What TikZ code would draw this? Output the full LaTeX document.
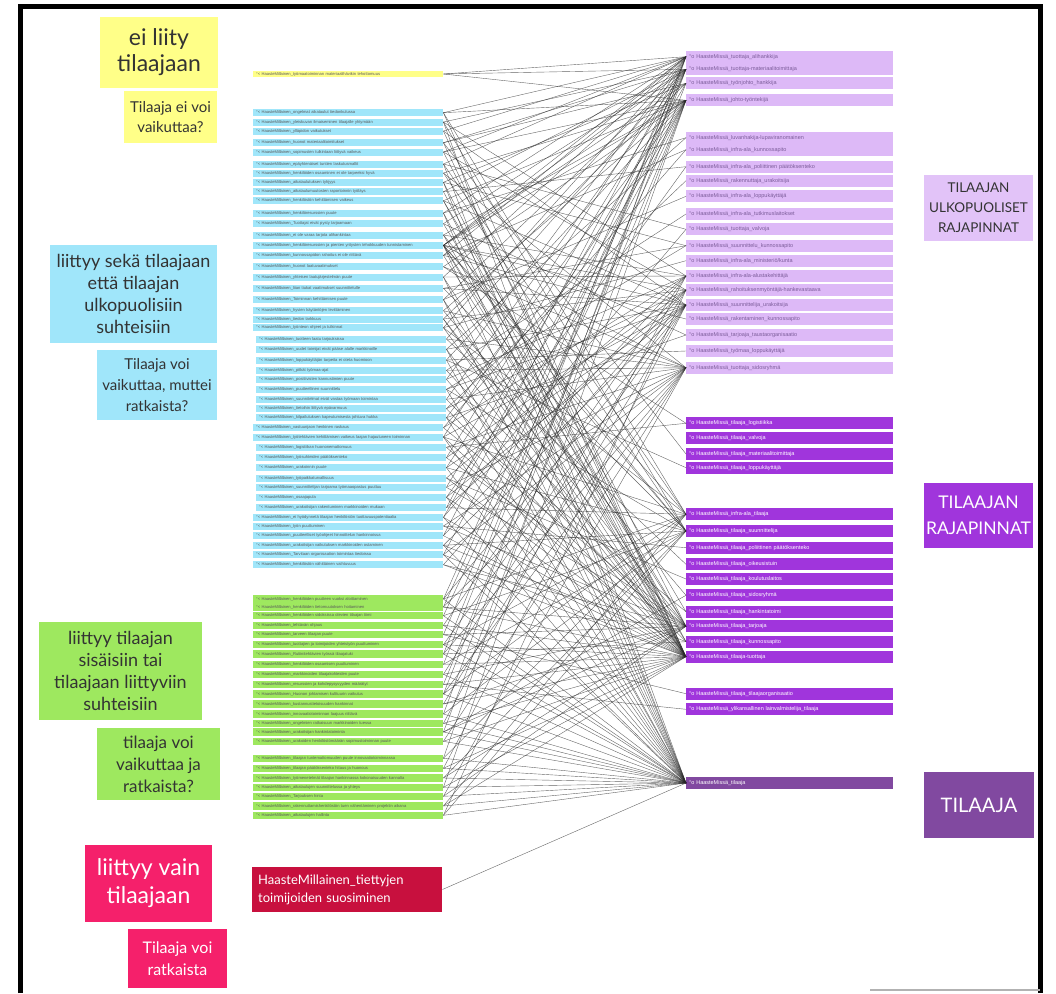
\documentclass[tikz,border=0pt]{standalone}
\usepackage{fontspec}
\setmainfont{Liberation Sans}
\newfontfamily\stick{Lato}
\definecolor{cyel}{HTML}{FFFF88}
\definecolor{cblue}{HTML}{A0E6FA}
\definecolor{cgreen}{HTML}{9EE85F}
\definecolor{credsticky}{HTML}{F5206B}
\definecolor{crednode}{HTML}{C8103E}
\definecolor{clpur}{HTML}{DDB9F7}
\definecolor{clpurtxt}{HTML}{7B5C99}
\definecolor{cdpur}{HTML}{A035DC}
\definecolor{ctil}{HTML}{8149A0}
\newcommand\barf{\fontsize{4.1}{5}\selectfont}
\newcommand\pbarf{\fontsize{5.5}{6}\selectfont}
\tikzset{
  sticky/.style={inner sep=0pt, align=center, text=black!80},
  lbar/.style={anchor=west, text width=184pt, inner xsep=3pt, inner ysep=0pt, minimum height=7pt, font=\barf, align=left, text=black!65},
  bbar/.style={lbar, fill=cblue},
  gbar/.style={lbar, fill=cgreen, minimum height=7.5pt},
  ybar/.style={lbar, fill=cyel, minimum height=6pt},
  pbar/.style={anchor=west, text width=201pt, inner xsep=3pt, inner ysep=0pt, minimum height=12pt, font=\pbarf, align=left},
  lpbar/.style={pbar, fill=clpur, text=clpurtxt},
  dpbar/.style={pbar, fill=cdpur, text=white},
  tpbar/.style={pbar, fill=ctil, text=white},
  conn/.style={draw=black!85, line width=0.4pt, opacity=0.7}
}
\begin{document}
\begin{tikzpicture}[x=1pt,y=-1pt]
\useasboundingbox (0,0) rectangle (1056,993);
\fill[white] (0,0) rectangle (1056,993);
\draw[line width=5pt] (20,993) -- (20,6) -- (1040,6) -- (1040,993);
\draw[black!30, line width=2pt] (870,990) -- (1040,990);

% sticky notes
\node[sticky, fill=cyel, minimum width=118, minimum height=71, font=\fontsize{23}{26}\stick] (n1) at (159,52.5) {ei liity\\tilaajaan};
\node[sticky, fill=cyel, minimum width=93, minimum height=52, font=\fontsize{15}{20}\stick] (n2) at (170.5,117) {Tilaaja ei voi\\vaikuttaa?};
\node[sticky, fill=cblue, minimum width=167, minimum height=98, font=\fontsize{18}{22}\stick] (n3) at (133.5,294) {liittyy sekä tilaajaan\\että tilaajan\\ulkopuolisiin\\suhteisiin};
\node[sticky, fill=cblue, minimum width=120, minimum height=70, font=\fontsize{15}{21}\stick] (n4) at (157,385) {Tilaaja voi\\vaikuttaa, muttei\\ratkaista?};
\node[sticky, fill=cgreen, minimum width=163, minimum height=98, font=\fontsize{18}{22}\stick] (n5) at (120.5,671) {liittyy tilaajan\\sisäisiin tai\\tilaajaan liittyviin\\suhteisiin};
\node[sticky, fill=cgreen, minimum width=123, minimum height=72, font=\fontsize{17}{22}\stick] (n6) at (158.5,764) {tilaaja voi\\vaikuttaa ja\\ratkaista?};
\node[sticky, fill=credsticky, text=white, minimum width=127, minimum height=77, font=\fontsize{23}{28}\stick] (n7) at (148.5,883.5) {liittyy vain\\tilaajaan};
\node[sticky, fill=credsticky, text=white, minimum width=99, minimum height=59, font=\fontsize{16}{22}\stick] (n8) at (177.5,958.5) {Tilaaja voi\\ratkaista};

% right labels
\node[sticky, fill=clpur!85!white, minimum width=109, minimum height=66, font=\fontsize{13.5}{20}\stick] (L1) at (978.5,208) {TILAAJAN\\ULKOPUOLISET\\RAJAPINNAT};
\node[sticky, fill=cdpur, text=white, minimum width=109, minimum height=65, font=\fontsize{17.5}{26}\stick] (L2) at (978.5,515.5) {TILAAJAN\\RAJAPINNAT};
\node[sticky, fill=ctil, text=white, minimum width=110, minimum height=66, font=\fontsize{20}{24}\stick] (L3) at (979,805) {TILAAJA};

% red node
\node[anchor=west, fill=crednode, text=white, text width=178pt, inner xsep=6pt, inner ysep=0pt, minimum height=45pt, align=left, font=\fontsize{13}{18}\stick] (rm) at (252,889.5) {HaasteMillainen\_tiettyjen\\toimijoiden suosiminen};

% yellow bar
\node[ybar] (y1) at (253,74) {°< HaasteMillainen\_työmaatoiminnan materiaalihävikin tehottomuus};

% blue bars
\node[bbar] (b1) at (253,112.7) {°< HaasteMillainen\_ongelmat aikataulut tiedonkulussa};
\node[bbar] (b2) at (253,122) {°< HaasteMillainen\_yleiskuvan ilmaiseminen tilaajalle yhtymään};
\node[bbar] (b3) at (253,131) {°< HaasteMillainen\_ylläpidon vaikutukset};
\node[bbar] (b4) at (253,142.7) {°< HaasteMillainen\_huonot materiaalitoimitukset};
\node[bbar] (b5) at (253,152) {°< HaasteMillainen\_sopimusten tulkintaan liittyvä vaikeus};
\node[bbar] (b6) at (253,164) {°< HaasteMillainen\_epäyhtenäiset tuntien laskutusmallit};
\node[bbar] (b7) at (253,173) {°< HaasteMillainen\_henkilöiden osaaminen ei ole tarpeeksi hyvä};
\node[bbar] (b8) at (253,182.3) {°< HaasteMillainen\_aikataulutuksen tyhjyys};
\node[bbar] (b9) at (253,191.7) {°< HaasteMillainen\_aikataulumuutosten raportoinnin työläys};
\node[bbar] (b10) at (253,200.7) {°< HaasteMillainen\_henkilöstön kehittämisen vaikeus};
\node[bbar] (b11) at (253,213) {°< HaasteMillainen\_henkilöresurssien puute};
\node[bbar] (b12) at (253,223.7) {°< HaasteMillainen\_Tuottajat eivät pysty tarjoamaan};
\node[bbar] (b13) at (253,235) {°< HaasteMillainen\_ei ole varaa tarjota alihankintaa};
\node[bbar] (b14) at (253,245.3) {°< HaasteMillainen\_henkilöresurssien ja pienten yritysten tehokkuuden tunnistaminen};
\node[bbar] (b15) at (253,255.3) {°< HaasteMillainen\_kunnossapidon rahoitus ei ole riittävä};
\node[bbar] (b16) at (253,266.7) {°< HaasteMillainen\_huonot laatuvaatimukset};
\node[bbar] (b17) at (253,277) {°< HaasteMillainen\_yhteisen laatujärjestelmän puute};
\node[bbar] (b18) at (253,288.3) {°< HaasteMillainen\_liian tiukat vaatimukset suunnittelulle};
\node[bbar] (b19) at (253,299.7) {°< HaasteMillainen\_Toiminnan kehittämisen puute};
\node[bbar] (b20) at (253,310.7) {°< HaasteMillainen\_hyvien käytäntöjen levittäminen};
\node[bbar] (b21) at (253,319) {°< HaasteMillainen\_tiedon tarkkuus};
\node[bbar] (b22) at (253,327.7) {°< HaasteMillainen\_työnteon ohjeet ja tulkinnat};
\node[bbar] (b23) at (256,339) {°< HaasteMillainen\_tuotteen laatu tarjouksissa};
\node[bbar] (b24) at (256,349.3) {°< HaasteMillainen\_uudet toimijat eivät pääse alalle markkinoille};
\node[bbar] (b25) at (256,360) {°< HaasteMillainen\_loppukäyttäjän tarpeita ei oteta huomioon};
\node[bbar] (b26) at (256,370.3) {°< HaasteMillainen\_pitkät työmaa-ajat};
\node[bbar] (b27) at (256,379.3) {°< HaasteMillainen\_positiivisten kannustimien puute};
\node[bbar] (b28) at (256,389.3) {°< HaasteMillainen\_puutteellinen suunnittelu};
\node[bbar] (b29) at (256,399.3) {°< HaasteMillainen\_suunnitelmat eivät vastaa työmaan toimintaa};
\node[bbar] (b30) at (256,408.7) {°< HaasteMillainen\_tietoihin liittyvä epävarmuus};
\node[bbar] (b31) at (256,417.7) {°< HaasteMillainen\_kilpailutuksen kapeutumisesta johtuva hukka};
\node[bbar] (b32) at (253,427.7) {°< HaasteMillainen\_vastuunjaon henkinen raskaus};
\node[bbar] (b33) at (253,437) {°< HaasteMillainen\_työtehtävien kehittämisen vaikeus laajan hajautuneen toiminnan};
\node[bbar] (b34) at (256,447.3) {°< HaasteMillainen\_logistiikan huononemattomuus};
\node[bbar] (b35) at (256,457.7) {°< HaasteMillainen\_työsuhteiden päätöksenteko};
\node[bbar] (b36) at (256,467.7) {°< HaasteMillainen\_urakoinnin puute};
\node[bbar] (b37) at (256,478) {°< HaasteMillainen\_työpaikkaturvallisuus};
\node[bbar] (b38) at (256,487.3) {°< HaasteMillainen\_suunnittelijan tarjoama työmaaopastus puuttuu};
\node[bbar] (b39) at (256,497.3) {°< HaasteMillainen\_osaajapula};
\node[bbar] (b40) at (256,507.7) {°< HaasteMillainen\_urakoitsijan rakentuminen markkinoiden mukaan};
\node[bbar] (b41) at (253,517.3) {°< HaasteMillainen\_ei hyödynnetä tilaajan henkilöstön tuottavuuspotentiaalia};
\node[bbar] (b42) at (253,526) {°< HaasteMillainen\_työn puuttuminen};
\node[bbar] (b43) at (253,535.7) {°< HaasteMillainen\_puutteelliset työohjeet hinnoittelun hankinnoissa};
\node[bbar] (b44) at (253,545.3) {°< HaasteMillainen\_urakoitsijan vaikutuksen markkinoiden ostaminen};
\node[bbar] (b45) at (253,554.7) {°< HaasteMillainen\_Tarvitaan organisaation toimintaa tiedoissa};
\node[bbar] (b46) at (253,564.7) {°< HaasteMillainen\_henkilöstön vähittäinen vaihtuvuus};

% green bars
\node[gbar] (g1) at (253,599) {°< HaasteMillainen\_henkilöiden puutteen vuoksi aloittaminen};
\node[gbar] (g2) at (253,607) {°< HaasteMillainen\_henkilöiden tietomuutoksen hoitaminen};
\node[gbar] (g3) at (253,615.7) {°< HaasteMillainen\_henkilöiden sidoksissa olevien tilaajan tiimi};
\node[gbar] (g4) at (253,625.3) {°< HaasteMillainen\_tehtävän ohjaus};
\node[gbar] (g5) at (253,634.7) {°< HaasteMillainen\_tarveen tilaajan puute};
\node[gbar] (g6) at (253,644.7) {°< HaasteMillainen\_tuottajien ja toimijoiden yhteistyön puuttuminen};
\node[gbar] (g7) at (253,654) {°< HaasteMillainen\_Rutiinitehtävien työssä tilaajatuki};
\node[gbar] (g8) at (253,664.3) {°< HaasteMillainen\_henkilöiden osaamisen puuttuminen};
\node[gbar] (g9) at (253,674.3) {°< HaasteMillainen\_markkinoiden tilaajakohteiden puute};
\node[gbar] (g10) at (253,684.3) {°< HaasteMillainen\_resurssien ja kohdepysyvyyden määrätyt};
\node[gbar] (g11) at (253,694) {°< HaasteMillainen\_Huonon johtamisen kulttuurin vaikutus};
\node[gbar] (g12) at (253,704) {°< HaasteMillainen\_kustannustietoisuuden hankinnat};
\node[gbar] (g13) at (253,714) {°< HaasteMillainen\_innovaatiotoiminnan laajuus riittävä};
\node[gbar] (g14) at (253,723.3) {°< HaasteMillainen\_ongelmien ratkaisuun markkinoiden tuessa};
\node[gbar] (g15) at (253,732) {°< HaasteMillainen\_urakoitsijan hankintatoiminta};
\node[gbar] (g16) at (253,741.3) {°< HaasteMillainen\_urakoiden henkilöstömäärän sopimustoiminnan puute};
\node[gbar] (g17) at (253,758.3) {°< HaasteMillainen\_tilaajan tuntemattomuuden puute innovaatiotoiminnassa};
\node[gbar] (g18) at (253,768.3) {°< HaasteMillainen\_tilaajan päätöksenteko hitaus ja huonous};
\node[gbar] (g19) at (253,778) {°< HaasteMillainen\_työmenetelmät tilaajan hankinnassa kokonaisuuden kannalta};
\node[gbar] (g20) at (253,787.3) {°< HaasteMillainen\_aikataulujen suunnittelussa ja yhteys};
\node[gbar] (g21) at (253,796.3) {°< HaasteMillainen\_Tarjouksen hinta};
\node[gbar] (g22) at (253,806) {°< HaasteMillainen\_rakennuttamishenkilöstön tuen vähentäminen projektin aikana};
\node[gbar] (g23) at (253,815.3) {°< HaasteMillainen\_aikataulujen hallinta};

% light purple bars
\node[lpbar] (p1) at (686,56.7) {°o HaasteMissä\_tuottaja\_alihankkija};
\node[lpbar] (p2) at (686,69.3) {°o HaasteMissä\_tuottaja-materiaalitoimittaja};
\node[lpbar] (p3) at (686,83.3) {°o HaasteMissä\_työnjohto\_hankkija};
\node[lpbar] (p4) at (686,100.3) {°o HaasteMissä\_johto-työntekijä};
\node[lpbar] (p5) at (686,137.7) {°o HaasteMissä\_luvanhakija-lupaviranomainen};
\node[lpbar] (p6) at (686,149.7) {°o HaasteMissä\_infra-ala\_kunnossapito};
\node[lpbar] (p7) at (686,166.7) {°o HaasteMissä\_infra-ala\_poliittinen päätöksenteko};
\node[lpbar] (p8) at (686,180.7) {°o HaasteMissä\_rakennuttaja\_urakoitsija};
\node[lpbar] (p9) at (686,196.3) {°o HaasteMissä\_infra-ala\_loppukäyttäjä};
\node[lpbar] (p10) at (686,214) {°o HaasteMissä\_infra-ala\_tutkimuslaitokset};
\node[lpbar] (p11) at (686,229.3) {°o HaasteMissä\_tuottaja\_valvoja};
\node[lpbar] (p12) at (686,245.7) {°o HaasteMissä\_suunnittelu\_kunnossapito};
\node[lpbar] (p13) at (686,260.7) {°o HaasteMissä\_infra-ala\_ministeriö/kunta};
\node[lpbar] (p14) at (686,276) {°o HaasteMissä\_infra-ala-alustakehittäjä};
\node[lpbar] (p15) at (686,290) {°o HaasteMissä\_rahoituksenmyöntäjä-hankevastaava};
\node[lpbar] (p16) at (686,305) {°o HaasteMissä\_suunnittelija\_urakoitsija};
\node[lpbar] (p17) at (686,319) {°o HaasteMissä\_rakentaminen\_kunnossapito};
\node[lpbar] (p18) at (686,335) {°o HaasteMissä\_tarjoaja\_taustaorganisaatio};
\node[lpbar] (p19) at (686,351) {°o HaasteMissä\_työmaa\_loppukäyttäjä};
\node[lpbar] (p20) at (686,367.7) {°o HaasteMissä\_tuottaja\_sidosryhmä};

% dark purple bars
\node[dpbar] (d1) at (686,423.3) {°o HaasteMissä\_tilaaja\_logistiikka};
\node[dpbar] (d2) at (686,438.3) {°o HaasteMissä\_tilaaja\_valvoja};
\node[dpbar] (d3) at (686,454) {°o HaasteMissä\_tilaaja\_materiaalitoimittaja};
\node[dpbar] (d4) at (686,467.7) {°o HaasteMissä\_tilaaja\_loppukäyttäjä};
\node[dpbar] (d5) at (686,514.3) {°o HaasteMissä\_infra-ala\_tilaaja};
\node[dpbar] (d6) at (686,531) {°o HaasteMissä\_tilaaja\_suunnittelija};
\node[dpbar] (d7) at (686,547.7) {°o HaasteMissä\_tilaaja\_poliittinen päätöksenteko};
\node[dpbar] (d8) at (686,564.3) {°o HaasteMissä\_tilaaja\_oikeusistuin};
\node[dpbar] (d9) at (686,579) {°o HaasteMissä\_tilaaja\_koulutuslaitos};
\node[dpbar] (d10) at (686,595.3) {°o HaasteMissä\_tilaaja\_sidosryhmä};
\node[dpbar] (d11) at (686,611.7) {°o HaasteMissä\_tilaaja\_hankintatoimi};
\node[dpbar] (d12) at (686,626.3) {°o HaasteMissä\_tilaaja\_tarjoaja};
\node[dpbar] (d13) at (686,641.7) {°o HaasteMissä\_tilaaja\_kunnossapito};
\node[dpbar] (d14) at (686,656.7) {°o HaasteMissä\_tilaaja-tuottaja};
\node[dpbar] (d15) at (686,693.7) {°o HaasteMissä\_tilaaja\_tilaajaorganisaatio};
\node[dpbar] (d16) at (686,709.3) {°o HaasteMissä\_ylikansallinen lainvalmistelija\_tilaaja};
\node[tpbar] (t0) at (686,783) {°o HaasteMissä\_tilaaja};

% connectors
\foreach \s/\ts in {
  y1/{p1,p2,p4},
  b1/{p1,p4,d5,d14}, b2/{p2,p14,d6,t0}, b3/{p1,p16,d14}, b4/{p2,p3,d3,d14},
  b5/{p4,p15,d12,p1}, b6/{p1,p11,d5,t0}, b7/{p4,p20,d6}, b8/{p3,p12,d14,t0},
  b9/{p2,p7,d13}, b10/{p4,p16,d11,d14}, b11/{p1,p5,d14,t0}, b12/{p2,p18,d12},
  b13/{p4,p14,d6,d14}, b14/{p1,p2,p3,p4,p15,p16,p20,d5,d6,d12,d14,t0},
  b15/{p6,p17,d13,p1}, b16/{p4,p20,d1}, b17/{p1,p14,d14,t0}, b18/{p12,p16,d6},
  b19/{p2,p9,d14,t0}, b20/{p4,p20,d10}, b21/{p3,p15,d12,d14}, b22/{p1,p13,d5,d14},
  b23/{p2,p20,d8}, b24/{p5,p16,d14,t0}, b25/{p4,p19,d4,t0}, b26/{p10,p20,d12},
  b27/{p1,p14,d14}, b28/{p12,p16,d6,t0}, b29/{p2,p20,d13}, b30/{p8,p15,d14},
  b31/{p4,p18,d11,t0}, b32/{p6,p14,d12}, b33/{p1,p16,d5,d14,t0}, b34/{p20,d1,d14},
  b35/{p2,p15,d12}, b36/{p4,p16,d6,t0}, b37/{p14,d9,d14}, b38/{p3,p20,d12},
  b39/{p7,p16,d14,t0}, b40/{p1,p15,d5}, b41/{p4,p11,d14,t0}, b42/{p20,d7,d12},
  b43/{p2,p14,d14}, b44/{p16,d6,d13,t0}, b45/{p4,p20,d14,t0}, b46/{p15,d12,d14},
  g1/{p1,p16,d5,t0}, g2/{p20,d12,d14,p2}, g3/{p4,d6,t0}, g4/{p14,d14,t0},
  g5/{p2,d12,d15}, g6/{p16,d5,d14,t0}, g7/{p20,d13,t0,p1}, g8/{p1,d6,d14},
  g9/{p15,d12,t0}, g10/{p4,d14,d16}, g11/{p20,d5,t0,p3}, g12/{p16,d12,d14},
  g13/{p2,d6,t0}, g14/{p14,d14,t0}, g15/{d10,d12,t0,p4}, g16/{p20,d14,t0},
  g17/{p1,d5,t0}, g18/{p16,d14,t0}, g19/{d6,d12,t0}, g20/{p4,d14,t0},
  g21/{p20,d12,t0}, g22/{d5,d14,t0}, g23/{p15,d6,t0},
  rm/{t0}}
{
  \foreach \t in \ts { \draw[conn] (\s.east) -- (\t.west); }
}
\end{tikzpicture}
\end{document}
